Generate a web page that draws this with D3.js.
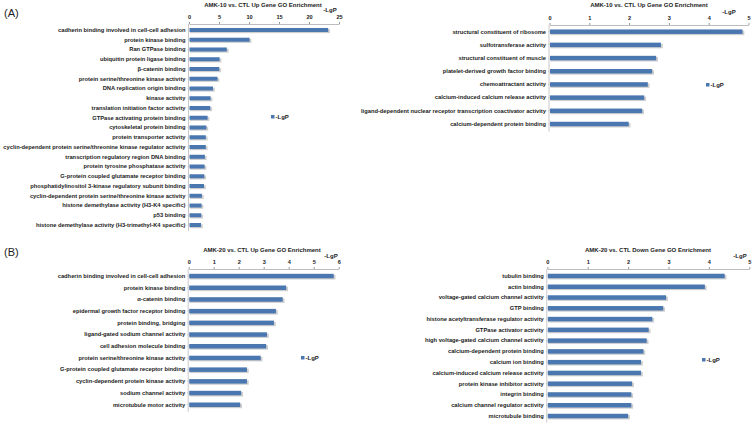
<!DOCTYPE html>
<html><head><meta charset="utf-8">
<script src="https://cdn.jsdelivr.net/npm/d3@7"></script>
<style>
body{margin:0;background:#fff;}
svg text{font-family:"Liberation Sans",Arial,sans-serif;}
</style></head>
<body><svg id="c" width="754" height="424"></svg>
<script>
// ---------- DATA ----------
const titleA1 = "AMK-10 vs. CTL Up Gene GO Enrichment";
const catsA1 = ["cadherin binding involved in cell-cell adhesion","protein kinase binding","Ran GTPase binding","ubiquitin protein ligase binding","β-catenin binding","protein serine/threonine kinase activity","DNA replication origin binding","kinase activity","translation initiation factor activity","GTPase activating protein binding","cytoskeletal protein binding","protein transporter activity","cyclin-dependent protein serine/threonine kinase regulator activity","transcription regulatory region DNA binding","protein tyrosine phosphatase activity","G-protein coupled glutamate receptor binding","phosphatidylinositol 3-kinase regulatory subunit binding","cyclin-dependent protein serine/threonine kinase activity","histone demethylase activity (H3-K4 specific)","p53 binding","histone demethylase activity (H3-trimethyl-K4 specific)"];
const valsA1 = [23.2,10.1,6.3,5.1,5.05,4.75,4.0,3.6,3.55,3.1,2.9,2.8,2.8,2.65,2.6,2.55,2.5,2.15,2.1,2.05,2.0];
const ticksA1 = [0,5,10,15,20,25];

const titleA2 = "AMK-10 vs. CTL Up Gene GO Enrichment";
const catsA2 = ["structural constituent of ribosome","sulfotransferase activity","structural constituent of muscle","platelet-derived growth factor binding","chemoattractant activity","calcium-induced calcium release activity","ligand-dependent nuclear receptor transcription coactivator activity","calcium-dependent protein binding"];
const valsA2 = [4.85,2.8,2.68,2.58,2.47,2.38,2.33,1.99];
const ticksA2 = [0,1,2,3,4,5];

const titleB1 = "AMK-20 vs. CTL Up Gene GO Enrichment";
const catsB1 = ["cadherin binding involved in cell-cell adhesion","protein kinase binding","α-catenin binding","epidermal growth factor receptor binding","protein binding, bridging","ligand-gated sodium channel activity","cell adhesion molecule binding","protein serine/threonine kinase activity","G-protein coupled glutamate receptor binding","cyclin-dependent protein kinase activity","sodium channel activity","microtubule motor activity"];
const valsB1 = [5.8,3.9,3.76,3.49,3.41,3.13,3.1,2.88,2.33,2.33,2.1,2.06];
const ticksB1 = [0,1,2,3,4,5,6];

const titleB2 = "AMK-20 vs. CTL Down Gene GO Enrichment";
const catsB2 = ["tubulin binding","actin binding","voltage-gated calcium channel activity","GTP binding","histone acetyltransferase regulator activity","GTPase activator activity","high voltage-gated calcium channel activity","calcium-dependent protein binding","calcium ion binding","calcium-induced calcium release activity","protein kinase inhibitor activity","integrin binding","calcium channel regulator activity","microtubule binding"];
const valsB2 = [4.39,3.9,2.94,2.87,2.6,2.51,2.46,2.38,2.32,2.32,2.1,2.08,2.08,2.0];
const ticksB2 = [0,1,2,3,4,5];

const seriesName = "-LgP";

// ---------- LAYOUT ----------
const svg = d3.select("#c");
const panels = [
  {title:titleA1,cats:catsA1,vals:valsA1,ticks:ticksA1,x0:189,x1:339,axisY:24,y0:25.1,y1:229.9,bh:4,titleX:263,titleY:7,unitX:330,unitY:12,legX:271,legY:117},
  {title:titleA2,cats:catsA2,vals:valsA2,ticks:ticksA2,x0:549.5,x1:748.5,axisY:25,y0:25.1,y1:130.6,bh:4.5,titleX:649,titleY:7,unitX:729,unitY:14,legX:706,legY:85},
  {title:titleB1,cats:catsB1,vals:valsB1,ticks:ticksB1,x0:188.7,x1:338.7,axisY:269,y0:270.2,y1:410.6,bh:4.5,titleX:262,titleY:252,unitX:331,unitY:258,legX:301,legY:358},
  {title:titleB2,cats:catsB2,vals:valsB2,ticks:ticksB2,x0:547.3,x1:749.3,axisY:269,y0:270.6,y1:421.4,bh:4.5,titleX:648,titleY:252,unitX:740,unitY:258,legX:702,legY:360}
];

panels.forEach(p => {
  const g = svg.append("g");
  const x = d3.scaleLinear().domain([p.ticks[0], p.ticks[p.ticks.length-1]]).range([p.x0, p.x1]);
  const y = d3.scaleBand().domain(p.cats).range([p.y0, p.y1]);

  const ax = g.append("g").attr("transform",`translate(0,${p.axisY})`)
    .call(d3.axisTop(x).tickValues(p.ticks).tickSize(2).tickSizeOuter(0).tickFormat(d3.format("d")));
  ax.select(".domain").attr("stroke","#bdbdbd");
  ax.selectAll(".tick line").attr("stroke","#9a9a9a");
  ax.selectAll(".tick text").attr("font-size",5.6).attr("font-weight","bold").attr("fill","#222").attr("dy","0");

  const ay = g.append("g").attr("transform",`translate(${p.x0},0)`)
    .call(d3.axisLeft(y).tickSize(1.5).tickSizeOuter(0));
  ay.select(".domain").attr("stroke","#c8c8c8").attr("d",`M-0.5,${p.axisY}V${p.y1+1}`);
  ay.selectAll(".tick line").attr("stroke","#c8c8c8");
  ay.selectAll(".tick text").attr("font-size",5.75).attr("font-weight","bold").attr("fill","#1a1a1a").attr("x",-3.5);

  const data = p.cats.map((c,i)=>({c, v:p.vals[i]}));
  g.selectAll("rect.sh").data(data).join("rect").attr("class","sh")
    .attr("x",x(0)+1).attr("y",d=>y(d.c)+y.bandwidth()/2-p.bh/2+1.2)
    .attr("width",d=>x(d.v)-x(0)+0.8).attr("height",p.bh)
    .attr("fill","#cfcfcf");
  g.selectAll("rect.bar").data(data).join("rect").attr("class","bar")
    .attr("x",x(0)+0.5).attr("y",d=>y(d.c)+y.bandwidth()/2-p.bh/2)
    .attr("width",d=>x(d.v)-x(0)-0.5).attr("height",p.bh)
    .attr("fill","#4a77b0");

  g.append("text").attr("x",p.titleX).attr("y",p.titleY).attr("text-anchor","middle")
    .attr("font-size",6).attr("font-weight","bold").attr("fill","#222").text(p.title);
  g.append("text").attr("x",p.unitX).attr("y",p.unitY).attr("text-anchor","middle")
    .attr("font-size",6).attr("font-weight","bold").attr("fill","#222").text(seriesName);
  g.append("rect").attr("x",p.legX).attr("y",p.legY-2).attr("width",3.5).attr("height",3.5).attr("fill","#4a77b0");
  g.append("text").attr("x",p.legX+4.5).attr("y",p.legY+2).attr("font-size",6).attr("font-weight","bold").attr("fill","#222").text(seriesName);
});

svg.append("text").attr("x",4).attr("y",17).attr("font-size",11).attr("fill","#222").text("(A)");
svg.append("text").attr("x",4).attr("y",256).attr("font-size",11).attr("fill","#222").text("(B)");
</script></body></html>
